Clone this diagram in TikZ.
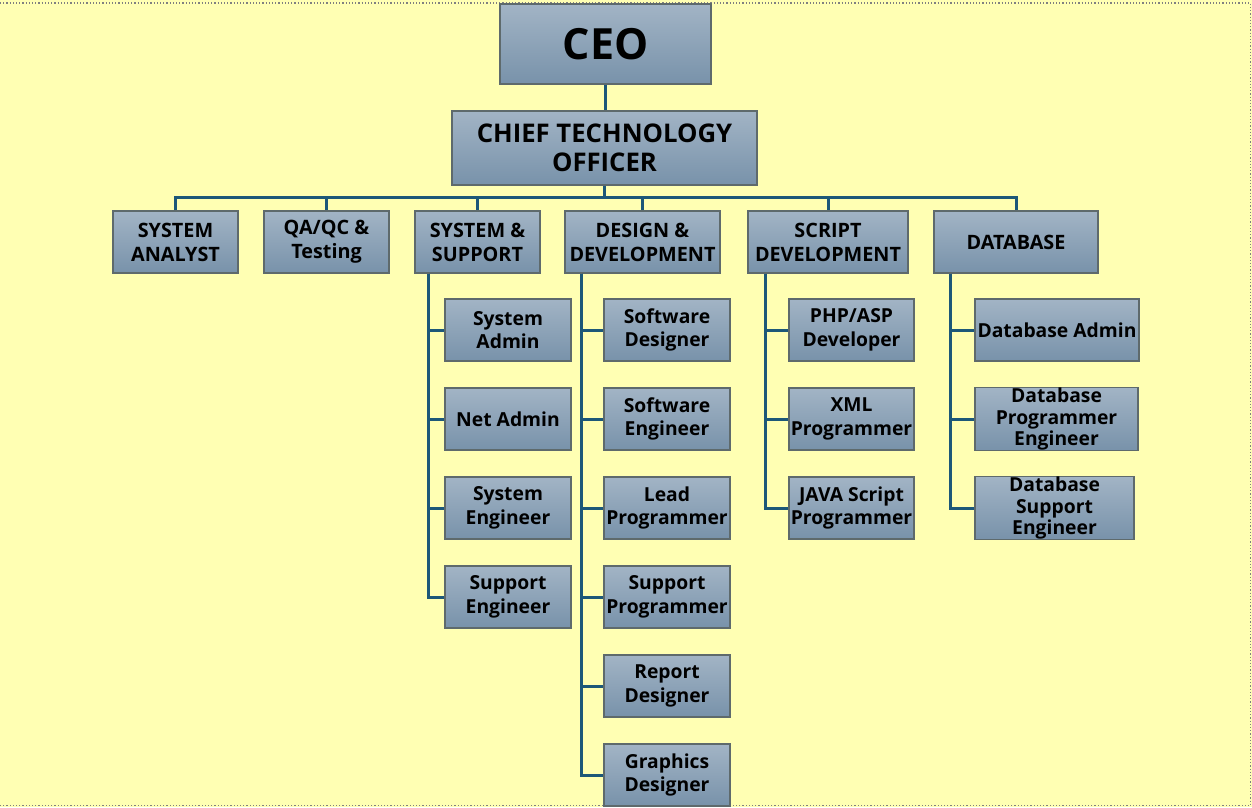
\documentclass[tikz,border=0pt]{standalone}
\usepackage{fontspec}
\setmainfont{Open Sans}
\definecolor{bgy}{HTML}{FFFFB3}
\definecolor{boxtop}{HTML}{A2B4C5}
\definecolor{boxbot}{HTML}{7892AA}
\definecolor{boxline}{HTML}{5E6A6C}
\definecolor{conn}{HTML}{1D5878}
\begin{document}
\begin{tikzpicture}[x=1pt,y=-1pt,
  box/.style={rectangle, draw=boxline, line width=1.2pt, top color=boxtop, bottom color=boxbot,
    align=center, inner xsep=1pt, inner ysep=0pt, font=\bfseries\fontsize{19.3}{23.5}\selectfont},
  kid/.style={box, minimum width=126pt, minimum height=62pt},
  tri/.style={font=\bfseries\fontsize{19.3}{21.8}\selectfont},
  dept/.style={box, minimum height=62pt, font=\bfseries\fontsize{19.8}{24}\selectfont},
  link/.style={draw=conn, line width=3pt, line cap=butt}]
\fill[bgy] (0,0) rectangle (1252,807);
\useasboundingbox (0,0) rectangle (1252,807);
\draw[gray, dotted, line width=1.2pt] (0,3) -- (1250.5,3) -- (1250.5,805.5) -- (0,805.5);

% top
\node[box, minimum width=211pt, minimum height=80pt, font=\bfseries\fontsize{43}{46}\selectfont] (ceo) at (605.5,44) {CEO};
\node[box, minimum width=305pt, minimum height=74pt, font=\bfseries\fontsize{25.7}{28.5}\selectfont] (cto) at (604.5,148) {CHIEF TECHNOLOGY\\OFFICER};

% departments
\node[dept, minimum width=125pt] (sa) at (175.5,242) {SYSTEM\\ANALYST};
\node[dept, minimum width=125pt] (qa) at (326.5,242) {QA/QC \&\\Testing};
\node[dept, minimum width=125pt] (ss) at (477.5,242) {SYSTEM \&\\SUPPORT};
\node[dept, minimum width=155pt] (dd) at (642.5,242) {DESIGN \&\\DEVELOPMENT};
\node[dept, minimum width=160pt] (sd) at (828,242) {SCRIPT\\DEVELOPMENT};
\node[dept, minimum width=164pt] (db) at (1016,242) {DATABASE};

% system & support children
\node[kid] (s1) at (508,330) {System\\Admin};
\node[kid] (s2) at (508,419) {Net Admin};
\node[kid] (s3) at (508,508) {System\\Engineer};
\node[kid] (s4) at (508,597) {Support\\Engineer};

% design & development children
\node[kid] (d1) at (667,330) {Software\\Designer};
\node[kid] (d2) at (667,419) {Software\\Engineer};
\node[kid] (d3) at (667,508) {Lead\\Programmer};
\node[kid] (d4) at (667,597) {Support\\Programmer};
\node[kid] (d5) at (667,686) {Report\\Designer};
\node[kid] (d6) at (667,775) {Graphics\\Designer};

% script development children
\node[kid, minimum width=125pt] (p1) at (851.5,330) {PHP/ASP\\Developer};
\node[kid, minimum width=125pt] (p2) at (851.5,419) {XML\\Programmer};
\node[kid, minimum width=125pt] (p3) at (851.5,508) {JAVA Script\\Programmer};

% database children
\node[kid, minimum width=164pt] (b1) at (1057,330) {Database Admin};
\node[kid, tri, minimum width=163pt] (b2) at (1056.5,419) {Database\\Programmer\\Engineer};
\node[kid, tri, minimum width=159pt] (b3) at (1054.5,508) {Database\\Support\\Engineer};

% connectors
\coordinate (bus) at (0,197.5);
\draw[link] (ceo.south) -- (ceo.south |- cto.north);
\draw[link] (cto.south) -- (cto.south |- bus);
\draw[link] (sa.north) |- (db.north |- bus) -- (db.north);
\foreach \n in {qa,ss,dd,sd}{\draw[link] (\n.north |- bus) -- (\n.north);}

\coordinate (sst) at ([xshift=-49.5pt]ss.south);
\foreach \c in {s1,s2,s3,s4}{\draw[link] (sst) |- (\c.west);}
\coordinate (ddt) at ([xshift=-61.5pt]dd.south);
\foreach \c in {d1,d2,d3,d4,d5,d6}{\draw[link] (ddt) |- (\c.west);}
\coordinate (sdt) at ([xshift=-63pt]sd.south);
\foreach \c in {p1,p2,p3}{\draw[link] (sdt) |- (\c.west);}
\coordinate (dbt) at ([xshift=-66pt]db.south);
\foreach \c in {b1,b2,b3}{\draw[link] (dbt) |- (\c.west);}
\end{tikzpicture}
\end{document}
